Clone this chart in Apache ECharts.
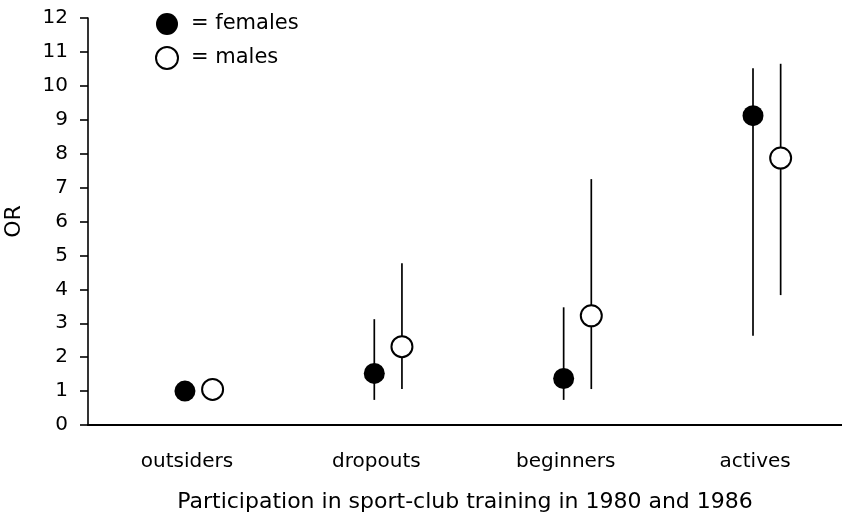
<!DOCTYPE html>
<html><head><meta charset="utf-8">
<script src="https://cdn.jsdelivr.net/npm/echarts@6/dist/echarts.min.js"></script>
<style>html,body{margin:0;padding:0;background:#fff}#c{width:842px;height:517px}</style>
</head><body><div id="c"></div>
<script>
const categories = ['outsiders', 'dropouts', 'beginners', 'actives'];
const femaleOR = [1.0, 1.52, 1.37, 9.12];
const femaleLow = [null, 0.74, 0.74, 2.63];
const femaleHigh = [null, 3.12, 3.47, 10.52];
const maleOR = [1.05, 2.31, 3.22, 7.87];
const maleLow = [null, 1.06, 1.06, 3.83];
const maleHigh = [null, 4.77, 7.25, 10.65];
const yTicks = [0,1,2,3,4,5,6,7,8,9,10,11,12];

const FOFF = -0.011, MOFF = 0.135;
const font = '"DejaVu Sans", "Liberation Sans", Arial, sans-serif';

function pts(vals, off){ return vals.map((v,i)=>[i+off, v]); }
function bars(lo, hi, off){
  const out = [];
  lo.forEach((l,i)=>{ if(l!=null && hi[i]!=null) out.push([i+off, l, hi[i]]); });
  return out;
}
function renderBar(params, api){
  const p1 = api.coord([api.value(0), api.value(1)]);
  const p2 = api.coord([api.value(0), api.value(2)]);
  return {type:'line', shape:{x1:p1[0], y1:p1[1], x2:p2[0], y2:p2[1]},
    style:{stroke:'#000', lineWidth:1.7}};
}

const chart = echarts.init(document.getElementById('c'), null, {renderer:'canvas'});
chart.setOption({
  backgroundColor:'#fff',
  animation:false,
  grid:{left:88, right:0, top:18, bottom:92, containLabel:false, outerBoundsMode:'none'},
  legend:{
    orient:'vertical', left:150, top:8, itemWidth:22, itemHeight:22, itemGap:11,
    data:['females','males'],
    formatter: n => '= ' + n,
    textStyle:{fontFamily:font, fontSize:21, color:'#000', padding:[0,0,0,8]}
  },
  xAxis:{
    type:'value', min:-0.523, max:3.459,
    axisLine:{show:true, onZero:false, lineStyle:{color:'#000', width:2.2}},
    axisTick:{show:false},
    splitLine:{show:false},
    axisLabel:{customValues:[0,1,2,3], formatter: v => categories[Math.round(v)] || '',
      fontFamily:font, fontSize:20, color:'#000', margin:27},
    name:'Participation in sport-club training in 1980 and 1986',
    nameLocation:'middle', nameGap:66,
    nameTextStyle:{fontFamily:font, fontSize:22, color:'#000'}
  },
  yAxis:{
    type:'value', min:0, max:12, interval:1,
    axisLine:{show:true, onZero:false, lineStyle:{color:'#000', width:1.6}},
    axisTick:{show:true, inside:false, length:8, lineStyle:{color:'#000', width:1.6}},
    splitLine:{show:false},
    axisLabel:{fontFamily:font, fontSize:20, color:'#000', margin:20,
      formatter: v => String(v)},
    name:'OR', nameLocation:'middle', nameGap:63, nameRotate:90,
    nameTextStyle:{fontFamily:font, fontSize:22, color:'#000'}
  },
  series:[
    {type:'custom', name:'fci', renderItem:renderBar, data:bars(femaleLow, femaleHigh, FOFF), z:1, silent:true},
    {type:'custom', name:'mci', renderItem:renderBar, data:bars(maleLow, maleHigh, MOFF), z:1, silent:true},
    {type:'scatter', name:'females', data:pts(femaleOR, FOFF), symbol:'circle', symbolSize:21,
      itemStyle:{color:'#000', opacity:1}, z:3},
    {type:'scatter', name:'males', data:pts(maleOR, MOFF), symbol:'circle', symbolSize:21,
      itemStyle:{color:'#fff', borderColor:'#000', borderWidth:2, opacity:1}, z:3}
  ]
});
</script></body></html>
